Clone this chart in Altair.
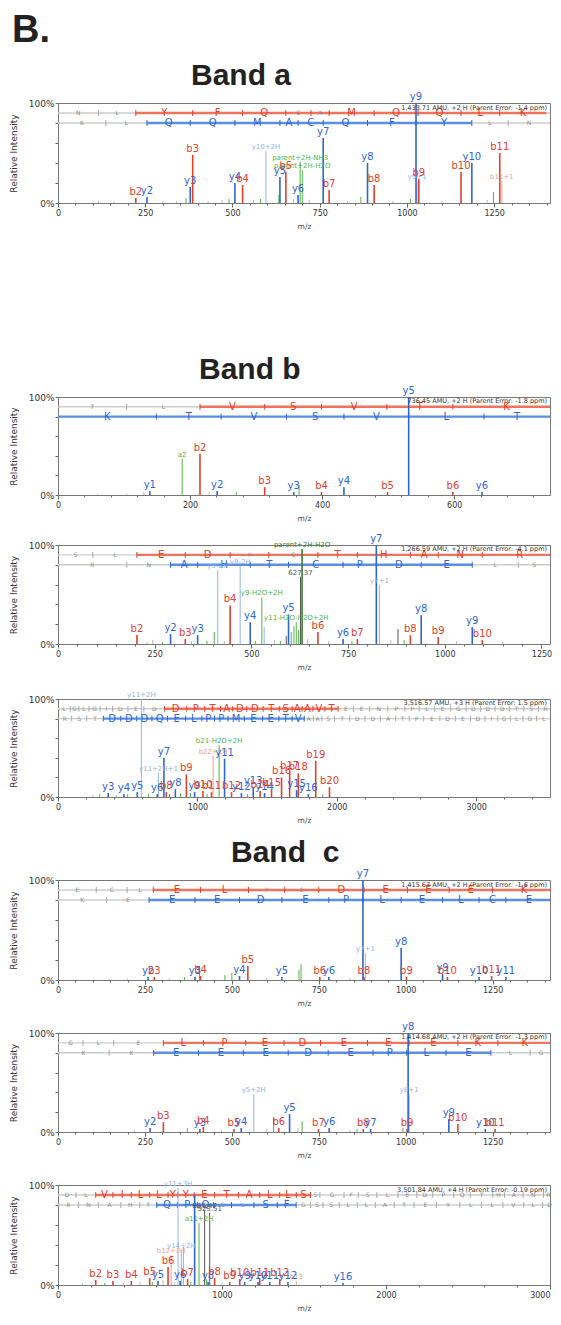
import altair as alt
import pandas as pd

# ---------------- text ----------------
FIG_LABEL = ["B."]
BAND_TITLES = ["Band a", "Band b", "Band \u00a0c"]
X_TITLE = "m/z"
Y_TITLE = "Relative Intensity"

# ---------------- panel 1 (Band a) ----------------
P1_HEADER = "1,433.71 AMU, +2 H (Parent Error: -1.4 ppm)"
P1_XMAX = 1410
P1_PEAKS = [
    (116, 0.02, "gr", ""), (160, 0.015, "gr", ""), (223, 0.05, "b", "b2"), (255, 0.06, "y", "y2"),
    (300, 0.015, "gr", ""), (340, 0.02, "gr", ""), (367, 0.05, "g", ""), (379, 0.16, "y", "y3"),
    (386, 0.48, "b", "b3"), (430, 0.02, "gr", ""), (470, 0.03, "gr", ""), (490, 0.04, "g", ""),
    (507, 0.20, "y", "y4"), (529, 0.18, "b", "b4"), (560, 0.03, "gr", ""), (580, 0.04, "g", ""),
    (596, 0.52, "ym", "y10+2H"), (633, 0.08, "g", ""), (636, 0.26, "y", "y5"), (653, 0.31, "b", "b5"),
    (675, 0.04, "gr", ""), (688, 0.08, "y", "y6"), (694, 0.41, "g", "parent+2H-NH3"),
    (700, 0.33, "g", "parent+2H-H2O"), (720, 0.03, "gr", ""), (760, 0.65, "y", "y7"),
    (777, 0.13, "b", "b7"), (830, 0.02, "gr", ""), (868, 0.06, "g", ""), (887, 0.40, "y", "y8"),
    (906, 0.18, "b", "b8"), (960, 0.02, "gr", ""), (1010, 0.04, "g", ""), (1026, 1.0, "y", "y9"),
    (1029, 0.22, "ym", "y9+1"), (1034, 0.24, "b", "b9"), (1100, 0.02, "gr", ""),
    (1155, 0.31, "b", "b10"), (1186, 0.40, "y", "y10"), (1230, 0.03, "gr", ""),
    (1248, 0.11, "g", ""), (1266, 0.50, "b", "b11"), (1272, 0.22, "bm", "b11+1"),
]
P1_TOP_SEQ = "NLYFQCAMQQLK"
P1_TOP_CUTS = [0, 116, 223, 386, 529, 653, 725, 777, 906, 1032, 1155, 1266, 1400]
P1_TOP_ON = "001110011111"
P1_BOT_SEQ = "KLQQMACQFYLN"
P1_BOT_CUTS = [0, 137, 255, 379, 507, 636, 688, 760, 887, 1026, 1186, 1290, 1410]
P1_BOT_ON = "001111111100"

# ---------------- panel 2 (Band b, 1) ----------------
P2_HEADER = "736.45 AMU, +2 H (Parent Error: -1.8 ppm)"
P2_XMAX = 745
P2_PEAKS = [
    (60, 0.01, "gr", ""), (104, 0.012, "gr", ""), (130, 0.03, "gr", ""), (139, 0.04, "y", "y1"),
    (188, 0.37, "g", "a2"), (215, 0.42, "b", "b2"), (229, 0.03, "gr", ""), (241, 0.04, "y", "y2"),
    (270, 0.03, "g", ""), (313, 0.08, "b", "b3"), (357, 0.03, "y", "y3"), (365, 0.10, "g", ""),
    (399, 0.03, "b", "b4"), (433, 0.08, "y", "y4"), (499, 0.03, "b", "b5"), (531, 1.0, "y", "y5"),
    (598, 0.03, "b", "b6"), (642, 0.03, "y", "y6"),
]
P2_TOP_SEQ = "TLVSVTK"
P2_TOP_CUTS = [0, 104, 215, 313, 399, 498, 598, 760]
P2_TOP_ON = "0011111"
P2_BOT_SEQ = "KTVSVLT"
P2_BOT_CUTS = [0, 149, 247, 346, 433, 531, 645, 745]
P2_BOT_ON = "1111111"

# ---------------- panel 3 (Band b, 2) ----------------
P3_HEADER = "1,266.59 AMU, +2 H (Parent Error: -4.1 ppm)"
P3_XMAX = 1272
P3_PEAKS = [
    (204, 0.09, "b", "b2"), (230, 0.02, "gr", ""), (245, 0.04, "gr", ""), (270, 0.02, "g", ""),
    (291, 0.10, "y", "y2"), (329, 0.05, "b", "b3"), (345, 0.03, "gr", ""), (361, 0.09, "y", "y3"),
    (385, 0.03, "g", ""), (404, 0.12, "g", ""), (413, 0.75, "ym", "y9-2H"), (430, 0.03, "gr", ""),
    (445, 0.39, "b", "b4"), (471, 0.79, "ym", "y8-2H"), (497, 0.22, "y", "y4"), (510, 0.03, "g", ""),
    (527, 0.47, "g", "y9-H2O+2H"), (533, 0.17, "ym", ""), (560, 0.04, "gr", ""), (575, 0.03, "g", ""),
    (590, 0.08, "k", ""), (596, 0.30, "y", "y5"), (603, 0.12, "g", ""), (610, 0.18, "g", ""),
    (616, 0.22, "g", "y11-H2O-H2O+2H"), (622, 0.14, "g", ""), (627, 0.68, "k", "627.37"),
    (631, 0.96, "gd", "parent+2H-H2O"), (645, 0.05, "gr", ""), (672, 0.12, "b", "b6"),
    (700, 0.03, "gr", ""), (737, 0.05, "y", "y6"), (760, 0.03, "g", ""), (774, 0.05, "b", "b7"),
    (823, 1.0, "y", "y7"), (831, 0.60, "ym", "y7+1"), (860, 0.04, "gr", ""), (879, 0.15, "k", ""),
    (895, 0.04, "g", ""), (911, 0.09, "b", "b8"), (939, 0.29, "y", "y8"), (983, 0.07, "b", "b9"),
    (1030, 0.03, "gr", ""), (1071, 0.17, "y", "y9"), (1097, 0.04, "b", "b10"), (1150, 0.02, "gr", ""),
]
P3_TOP_SEQ = "SLEDPCTHANR"
P3_TOP_CUTS = [0, 90, 204, 329, 445, 545, 672, 774, 911, 983, 1097, 1290]
P3_TOP_ON = "00110011111"
P3_BOT_SEQ = "RNAHTCPDELS"
P3_BOT_CUTS = [0, 178, 291, 361, 497, 596, 737, 823, 939, 1071, 1190, 1272]
P3_BOT_ON = "00111111100"

# ---------------- panel 4 (Band b, 3) ----------------
P4_HEADER = "3,516.57 AMU, +3 H (Parent Error: 1.5 ppm)"
P4_XMAX = 3530
P4_PEAKS = [
    (250, 0.02, "gr", ""), (300, 0.03, "g", ""), (360, 0.04, "y", "y3"), (420, 0.02, "gr", ""),
    (473, 0.03, "y", "y4"), (500, 0.03, "g", ""), (569, 0.05, "y", "y5"), (598, 1.0, "ym", "y11+2H"),
    (650, 0.03, "g", ""), (712, 0.03, "y", "y6"), (720, 0.25, "ym", "y11+2H+1"), (760, 0.40, "y", "y7"),
    (777, 0.05, "b", "b8"), (800, 0.03, "g", ""), (842, 0.08, "y", "y8"), (880, 0.04, "g", ""),
    (921, 0.23, "b", "b9"), (950, 0.04, "g", ""), (980, 0.05, "y", "y9"), (1040, 0.06, "b", "b10"),
    (1070, 0.03, "g", ""), (1101, 0.05, "b", "b11"), (1113, 0.42, "bm", "b22+2H"),
    (1156, 0.53, "g", "b21-H2O+2H"), (1195, 0.39, "y", "y11"), (1245, 0.05, "b", "b12"),
    (1316, 0.04, "y", "y12"), (1360, 0.03, "g", ""), (1401, 0.10, "y", "y13"), (1450, 0.06, "b", "b14"),
    (1482, 0.04, "y", "y14"), (1532, 0.08, "b", "b15"), (1604, 0.20, "b", "b16"), (1662, 0.26, "b", "b17"),
    (1712, 0.07, "y", "y15"), (1724, 0.24, "b", "b18"), (1796, 0.03, "y", "y16"), (1849, 0.37, "b", "b19"),
    (1900, 0.03, "g", ""), (1948, 0.10, "b", "b20"),
]
P4_TOP_SEQ = "LGLGIDEDDPTADDTSAAVTEENPPLEGDDDTSR"
P4_TOP_CUTS = [0, 88, 150, 222, 302, 392, 502, 616, 765, 924, 1053, 1166, 1254, 1354, 1472, 1587,
               1680, 1751, 1829, 1915, 2010, 2120, 2236, 2366, 2489, 2592, 2702, 2818, 2928, 3032,
               3136, 3238, 3342, 3446, 3550]
P4_TOP_ON = "0000000011111111111100000000000000"
P4_BOT_SEQ = "RSTDDDQELPPMEETVAASTDDATPEDEDIGLGL"
P4_BOT_CUTS = [0, 98, 206, 325, 450, 565, 674, 786, 916, 1032, 1123, 1220, 1336, 1468, 1585, 1680,
               1767, 1832, 1893, 1984, 2093, 2203, 2313, 2423, 2520, 2624, 2740, 2850, 2960, 3064,
               3155, 3245, 3336, 3433, 3540]
P4_BOT_ON = "0001111111111111000000000000000000"

# ---------------- panel 5 (Band c, 1) ----------------
P5_HEADER = "1,415.63 AMU, +2 H (Parent Error: -1.6 ppm)"
P5_XMAX = 1415
P5_PEAKS = [
    (147, 0.01, "gr", ""), (200, 0.015, "gr", ""), (259, 0.03, "y", "y2"), (277, 0.03, "b", "b3"),
    (320, 0.02, "gr", ""), (364, 0.03, "g", ""), (394, 0.03, "y", "y3"), (407, 0.14, "g", ""),
    (410, 0.04, "b", "b4"), (480, 0.05, "g", ""), (500, 0.07, "g", ""), (522, 0.04, "y", "y4"),
    (546, 0.14, "b", "b5"), (600, 0.02, "gr", ""), (644, 0.03, "y", "y5"), (693, 0.10, "g", ""),
    (699, 0.16, "g", ""), (753, 0.03, "b", "b6"), (779, 0.03, "y", "y6"), (840, 0.02, "gr", ""),
    (877, 1.0, "y", "y7"), (880, 0.03, "b", "b8"), (884, 0.27, "ym", "y7+1"), (987, 0.32, "y", "y8"),
    (1002, 0.03, "b", "b9"), (1106, 0.06, "y", "y9"), (1120, 0.03, "b", "b10"),
    (1211, 0.03, "y", "y10"), (1247, 0.04, "b", "b11"), (1288, 0.03, "y", "y11"),
]
P5_TOP_SEQ = "ECLELPEDEEEK"
P5_TOP_CUTS = [0, 110, 199, 274, 410, 548, 652, 750, 880, 1005, 1125, 1250, 1430]
P5_TOP_ON = "000110011111"
P5_BOT_SEQ = "KEEEDEPLELCE"
P5_BOT_CUTS = [0, 140, 262, 394, 522, 644, 779, 877, 987, 1106, 1211, 1288, 1420]
P5_BOT_ON = "001111111111"

# ---------------- panel 6 (Band c, 2) ----------------
P6_HEADER = "1,414.68 AMU, +2 H (Parent Error: -1.3 ppm)"
P6_XMAX = 1415
P6_PEAKS = [
    (150, 0.01, "gr", ""), (220, 0.015, "gr", ""), (265, 0.04, "y", "y2"), (303, 0.10, "b", "b3"),
    (372, 0.04, "g", ""), (408, 0.03, "y", "y3"), (418, 0.05, "b", "b4"), (470, 0.02, "gr", ""),
    (506, 0.03, "b", "b5"), (527, 0.04, "y", "y4"), (563, 0.38, "ym", "y5+2H"), (600, 0.03, "gr", ""),
    (620, 0.14, "g", ""), (635, 0.04, "b", "b6"), (666, 0.18, "y", "y5"), (690, 0.04, "gr", ""),
    (702, 0.11, "g", ""), (749, 0.03, "b", "b7"), (780, 0.04, "y", "y6"), (840, 0.02, "gr", ""),
    (860, 0.03, "g", ""), (878, 0.03, "b", "b8"), (899, 0.03, "y", "y7"), (992, 0.04, "g", ""),
    (1004, 0.03, "b", "b9"), (1007, 1.0, "y", "y8"), (1010, 0.38, "ym", "y8+1"),
    (1124, 0.13, "y", "y9"), (1150, 0.08, "b", "b10"), (1229, 0.03, "y", "y10"), (1257, 0.03, "b", "b11"),
]
P6_TOP_SEQ = "GLELPEDEEEKK"
P6_TOP_CUTS = [0, 72, 160, 303, 418, 540, 650, 755, 890, 1010, 1150, 1265, 1420]
P6_TOP_ON = "000111111111"
P6_BOT_SEQ = "KKEEEDEPLELG"
P6_BOT_CUTS = [0, 147, 275, 404, 533, 662, 777, 906, 1003, 1116, 1245, 1358, 1420]
P6_BOT_ON = "001111111100"

# ---------------- panel 7 (Band c, 3) ----------------
P7_HEADER = "3,501.84 AMU, +4 H (Parent Error: -0.19 ppm)"
P7_XMAX = 3000
P7_PEAKS = [
    (150, 0.015, "gr", ""), (230, 0.05, "b", "b2"), (285, 0.02, "g", ""), (335, 0.04, "b", "b3"),
    (400, 0.02, "gr", ""), (447, 0.04, "b", "b4"), (500, 0.03, "gr", ""), (559, 0.07, "b", "b5"),
    (575, 0.03, "g", ""), (610, 0.04, "y", "y5"), (640, 0.05, "gr", ""), (671, 0.18, "b", "b6"),
    (690, 0.30, "bm", "b12+2H"), (712, 0.03, "gr", ""), (732, 0.97, "ym", "y11+3H"), (745, 0.04, "y", "y6"),
    (752, 0.35, "ym", "y14+2H"), (765, 0.38, "ym", ""), (790, 0.06, "b", "b7"), (810, 0.03, "g", ""),
    (833, 0.90, "y", ""), (860, 0.62, "g", "a11+2H"), (894, 0.75, "k", "893.47"), (905, 0.06, "g", ""),
    (915, 0.03, "y", "y8"), (925, 0.72, "k", "923.51"), (955, 0.07, "b", "b8"), (1000, 0.02, "gr", ""),
    (1047, 0.03, "b", "b9"), (1108, 0.06, "b", "b10"), (1138, 0.03, "y", "y9"), (1220, 0.03, "y", "y10"),
    (1230, 0.06, "b", "b11"), (1291, 0.03, "y", "y11"), (1352, 0.06, "b", "b12"), (1402, 0.03, "y", "y12"),
    (1453, 0.04, "bm", "b13"), (1738, 0.02, "y", "y16"),
]
P7_TOP_SEQ = "DLVILLYYETALLSSGFSLEDPQTHANR"
P7_TOP_CUTS = [0, 110, 230, 335, 447, 559, 671, 730, 830, 955, 1100, 1230, 1352, 1453, 1540, 1597,
               1744, 1831, 1944, 2073, 2188, 2285, 2413, 2514, 2651, 2722, 2836, 2960, 3020]
P7_TOP_ON = "0011111111111100000000000000"
P7_BOT_SEQ = "RNAHTQPQGLSFGSSLLATEYLLVLD"
P7_BOT_CUTS = [0, 125, 246, 383, 498, 602, 728, 849, 948, 1058, 1195, 1337, 1452, 1540, 1616, 1715,
               1825, 1935, 2050, 2171, 2308, 2450, 2582, 2713, 2840, 2955, 3040]
P7_BOT_ON = "00000111001100000000000000"

# ---------------- styles ----------------
KINDS = ["b", "y", "bm", "ym", "g", "gd", "gr", "k", "seqb", "seqy",
         "tickb", "ticky", "tickgray", "Lb", "Ly", "Lg", "hdr"]
COLORS = ["#e4412b", "#2d66d4", "#f3a08f", "#92b3ec", "#4fb645", "#3e7b35", "#b8b8b8", "#555555",
          "#f0735e", "#5b8fe5", "#e4412b", "#2d66d4", "#aaaaaa", "#e4412b", "#2d66d4", "#8a8a8a", "#333333"]
CSCALE = alt.Scale(domain=KINDS, range=COLORS)
FONT = "DejaVu Sans"


def build(peaks, top, bot, header, xmax):
    rows = []

    def add(layer, kind, x, y, x2=None, y2=None, text=""):
        rows.append(dict(layer=layer, kind=kind, x=x, y=y,
                         x2=x if x2 is None else x2, y2=y if y2 is None else y2, text=text))

    for (seq, cuts, on), yv, ion in ((top, 0.9, "b"), (bot, 0.8, "y")):
        add("seqbase", "gr", 0, yv, xmax, yv)
        idx = [i for i, c in enumerate(on) if c == "1"]
        lo, hi = cuts[idx[0]], min(cuts[idx[-1] + 1], xmax)
        add("seqcol", "seq" + ion, lo, yv, hi, yv)
        for c in cuts[1:-1]:
            add("tick", ("tick" + ion) if lo <= c <= hi else "tickgray", c, yv - 0.03, c, yv + 0.03)
        for i, ch in enumerate(seq):
            mid = (cuts[i] + cuts[i + 1]) / 2
            if on[i] == "1":
                add("letteron", "L" + ion, mid, yv, text=ch)
            else:
                add("letteroff", "Lg", mid, yv, text=ch)
    rank = {"gr": 0, "k": 1, "g": 2, "gd": 3, "bm": 4, "ym": 4, "b": 5, "y": 5}
    for mz, it, kind, lab in sorted(peaks, key=lambda p: rank[p[2]]):
        add("peakmaj" if kind in ("b", "y", "gd") else "peakmin", kind, mz, it, mz, 0)
        if lab:
            add("labmaj" if kind in ("b", "y") else "labmin", kind, mz, it, text=lab)
    add("header", "hdr", xmax, 0.955, text=header)
    return pd.DataFrame(rows)


def panel(df, xmax, major, width, height, title=None, dx=0):
    minor = major // 5
    ticks = list(range(0, int(xmax) + 1, minor))
    xaxis = alt.Axis(
        values=ticks, format="d",
        labelExpr=f"datum.value % {major} === 0 ? datum.label : ''",
        labelAlign={"condition": {"test": f"datum.value >= {xmax}", "value": "right"}, "value": "center"},
        tickSize={"condition": {"test": f"datum.value % {major} === 0", "value": 4}, "value": 2},
        labelFont=FONT, labelFontSize=8, labelColor="#333", labelPadding=2, labelOverlap=False,
        labelFlush=False, tickColor="#666", domain=False, grid=False,
        title=X_TITLE, titleFont=FONT, titleFontSize=7.5, titleFontWeight="normal",
        titleColor="#444", titlePadding=5)
    yaxis = alt.Axis(
        values=[0, 0.2, 0.4, 0.6, 0.8, 1.0],
        labelExpr="datum.value == 1 ? '100%' : (datum.value == 0 ? '0%' : '')",
        labelFont=FONT, labelFontSize=9, labelColor="#333", labelPadding=1, labelOverlap=False,
        labelFlush=False, tickSize=3, tickColor="#666", domain=False, grid=False,
        title=Y_TITLE, titleFont=FONT, titleFontSize=9, titleFontWeight="normal", titleColor="#333",
        titleX=-45, titleY=height / 2, titleBaseline="middle", titleAlign="center")
    base = alt.Chart(df).encode(
        x=alt.X("x:Q", scale=alt.Scale(domain=[0, xmax], nice=False, zero=False), axis=xaxis),
        y=alt.Y("y:Q", scale=alt.Scale(domain=[0, 1], nice=False, zero=False), axis=yaxis))
    color = alt.Color("kind:N", scale=CSCALE, legend=None)

    def f(name):
        return base.transform_filter(alt.datum.layer == name)

    layers = [
        f("seqbase").mark_rule(color="#cccccc", strokeWidth=1.4).encode(x2="x2:Q", y2="y2:Q"),
        f("seqcol").mark_rule(strokeWidth=2.4).encode(x2="x2:Q", y2="y2:Q", color=color),
        f("tick").mark_rule(strokeWidth=1).encode(x2="x2:Q", y2="y2:Q", color=color),
        f("peakmin").mark_rule(strokeWidth=1).encode(x2="x2:Q", y2="y2:Q", color=color),
        f("peakmaj").mark_rule(strokeWidth=1.6).encode(x2="x2:Q", y2="y2:Q", color=color),
        f("letteroff").mark_text(font=FONT, fontSize=6, baseline="middle").encode(text="text:N", color=color),
        f("letteron").mark_text(font=FONT, fontSize=10, baseline="middle").encode(text="text:N", color=color),
        f("labmin").mark_text(font=FONT, fontSize=7, baseline="bottom", dy=-1).encode(text="text:N", color=color),
        f("labmaj").mark_text(font=FONT, fontSize=10, baseline="bottom", dy=-1).encode(text="text:N", color=color),
        f("header").mark_text(font=FONT, fontSize=6.5, align="right", baseline="middle", dx=-3).encode(
            text="text:N", color=color),
    ]
    props = dict(width=width, height=height)
    if title:
        props["title"] = alt.TitleParams(text=title, anchor="start", frame="group", dx=dx, dy=32, offset=9,
                                         fontSize=30, font="Liberation Sans", fontWeight="bold",
                                         color="#222222", baseline="alphabetic")
    return alt.layer(*layers).properties(**props)


W = 492


def spacer(h, w=W):
    return alt.Chart(pd.DataFrame({"v": [0]})).mark_point(opacity=0).properties(
        width=w, height=h, view=alt.ViewBackground(stroke=None))


d1 = build(P1_PEAKS, (P1_TOP_SEQ, P1_TOP_CUTS, P1_TOP_ON), (P1_BOT_SEQ, P1_BOT_CUTS, P1_BOT_ON), P1_HEADER, P1_XMAX)
d2 = build(P2_PEAKS, (P2_TOP_SEQ, P2_TOP_CUTS, P2_TOP_ON), (P2_BOT_SEQ, P2_BOT_CUTS, P2_BOT_ON), P2_HEADER, P2_XMAX)
d3 = build(P3_PEAKS, (P3_TOP_SEQ, P3_TOP_CUTS, P3_TOP_ON), (P3_BOT_SEQ, P3_BOT_CUTS, P3_BOT_ON), P3_HEADER, P3_XMAX)
d4 = build(P4_PEAKS, (P4_TOP_SEQ, P4_TOP_CUTS, P4_TOP_ON), (P4_BOT_SEQ, P4_BOT_CUTS, P4_BOT_ON), P4_HEADER, P4_XMAX)
d5 = build(P5_PEAKS, (P5_TOP_SEQ, P5_TOP_CUTS, P5_TOP_ON), (P5_BOT_SEQ, P5_BOT_CUTS, P5_BOT_ON), P5_HEADER, P5_XMAX)
d6 = build(P6_PEAKS, (P6_TOP_SEQ, P6_TOP_CUTS, P6_TOP_ON), (P6_BOT_SEQ, P6_BOT_CUTS, P6_BOT_ON), P6_HEADER, P6_XMAX)
d7 = build(P7_PEAKS, (P7_TOP_SEQ, P7_TOP_CUTS, P7_TOP_ON), (P7_BOT_SEQ, P7_BOT_CUTS, P7_BOT_ON), P7_HEADER, P7_XMAX)

p1 = panel(d1, P1_XMAX, 250, W, 100, BAND_TITLES[0], 133)
p2 = panel(d2, P2_XMAX, 200, W, 98, BAND_TITLES[1], 141)
p3 = panel(d3, P3_XMAX, 250, W, 99)
p4 = panel(d4, P4_XMAX, 1000, W, 98)
p5 = panel(d5, P5_XMAX, 250, W, 100, BAND_TITLES[2], 173)
p6 = panel(d6, P6_XMAX, 250, W, 99)
p7 = panel(d7, P7_XMAX, 1000, W, 100)

top = alt.Chart(pd.DataFrame({"t": FIG_LABEL})).mark_text(
    font="Liberation Sans", fontSize=38, fontWeight="bold", align="left", baseline="top",
    color="#222222").encode(text="t:N", x=alt.value(-46), y=alt.value(14)).properties(
    width=W, height=105, view=alt.ViewBackground(stroke=None))

chart = alt.vconcat(
    top, p1, spacer(194), p2, spacer(50), p3, spacer(55), p4, spacer(83),
    p5, spacer(53), p6, spacer(53), p7, spacing=0, bounds="flush"
).properties(
    padding={"top": -10, "bottom": 0, "left": 0, "right": 0}, background="white"
).configure_view(stroke="#777777", strokeWidth=1)

chart.save("out.html", embed_options={"renderer": "svg", "actions": False})
